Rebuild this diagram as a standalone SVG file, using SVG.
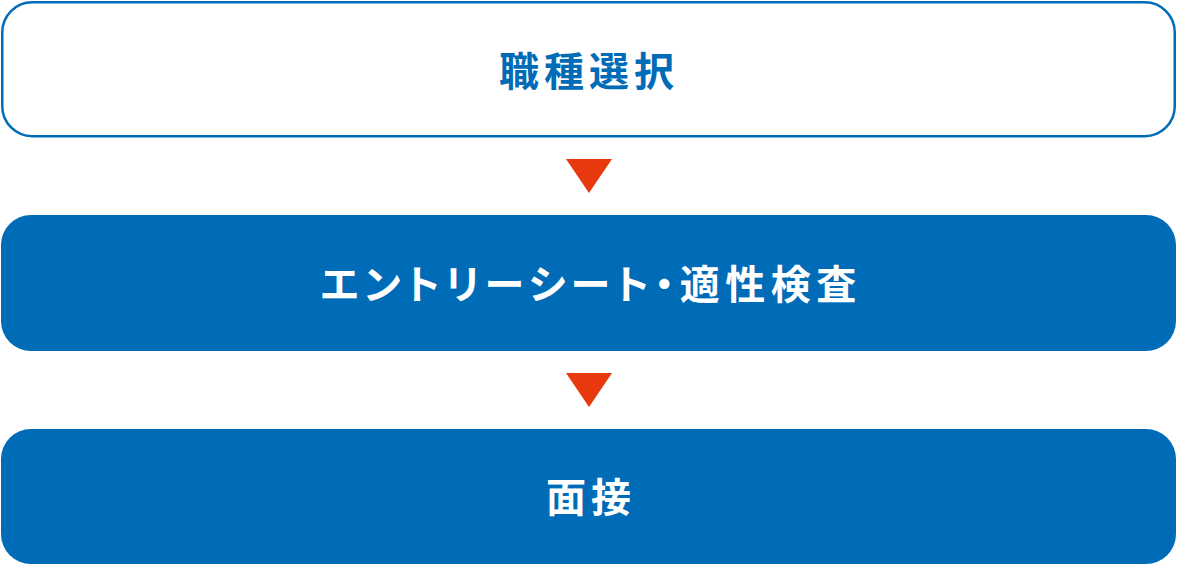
<svg xmlns="http://www.w3.org/2000/svg" width="1177" height="565" viewBox="0 0 1177 565">
<style>
.t{font-family:"Noto Sans CJK JP","Noto Sans",sans-serif;font-weight:bold;font-size:40px;letter-spacing:5px;text-anchor:middle;}
.p{font-feature-settings:"palt";letter-spacing:5.5px;}
.arr{fill:#E8380D;}
</style>
<rect width="1177" height="565" fill="#fff"/>
<g id="node1">
<rect x="2.25" y="2.25" width="1172.5" height="134" rx="30" fill="#fff" stroke="#006CB8" stroke-width="2.5"/>
<text class="t" x="589" y="86" fill="#006CB8">職種選択</text>
</g>
<g id="node2">
<rect x="1" y="215" width="1175" height="136" rx="30" fill="#006CB8"/>
<text class="t p" x="591" y="299" fill="#fff">エントリーシート・適性検査</text>
</g>
<g id="node3">
<rect x="1" y="429" width="1175" height="135" rx="30" fill="#006CB8"/>
<text class="t" x="591" y="512" fill="#fff">面接</text>
</g>
<g id="connectors">
<polygon class="arr" points="566,159 612,159 589,193"/>
<polygon class="arr" points="566,373 612,373 589,407"/>
</g>
</svg>
